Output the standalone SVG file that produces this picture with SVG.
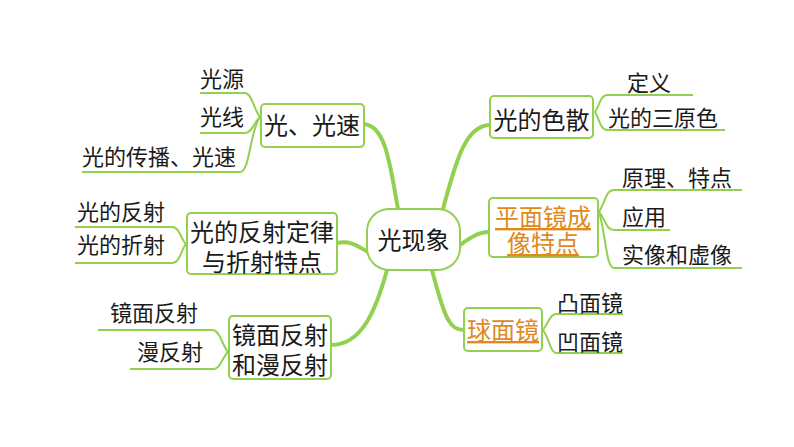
<svg xmlns="http://www.w3.org/2000/svg" width="794" height="447" viewBox="0 0 794 447">
<style>
text{font-family:"Noto Sans CJK SC","Noto Sans",sans-serif;fill:#1a1a1a}
.m{font-size:24px;text-anchor:middle}
.c{font-size:22px}
.o{fill:#E08A1E;text-decoration:underline}
.box{fill:#fff;stroke:#92D050;stroke-width:2}
.main{fill:none;stroke:#92D050;stroke-width:4;stroke-linecap:round}
.sub{fill:none;stroke:#92D050;stroke-width:2}
</style>
<rect width="794" height="447" fill="#fff"/>
<g id="connectors">
<path class="main" d="M364,124 C386,126 390,165 398,209"/>
<path class="main" d="M443,209 C456,160 466,125 490,125"/>
<path class="main" d="M337,243 C352,240 360,248 368,252"/>
<path class="main" d="M387,270 C376,310 362,345 331,345"/>
<path class="main" d="M460,245 C470,238 478,232 489,232"/>
<path class="main" d="M432,270 C445,320 450,330 464,330"/>
<path class="sub" d="M200,93 H245 C252,93 254,110 260,117"/>
<path class="sub" d="M200,133 H245 C252,133 254,122 260,117"/>
<path class="sub" d="M82,172 H240 C250,172 250,130 260,117"/>
<path class="sub" d="M75,227 H172 C180,227 181,240 186,244"/>
<path class="sub" d="M75,263 H172 C180,263 181,250 186,244"/>
<path class="sub" d="M98,330 H212 C220,330 222,345 228,352"/>
<path class="sub" d="M130,369 H214 C220,369 222,358 228,352"/>
<path class="sub" d="M595,112 C600,105 600,95 608,95 H693"/>
<path class="sub" d="M595,112 C600,120 600,130 608,130 H725"/>
<path class="sub" d="M599,212 C606,200 606,190 614,190 H742"/>
<path class="sub" d="M599,212 C606,220 606,230 614,230 H670"/>
<path class="sub" d="M599,212 C606,235 606,268 614,268 H742"/>
<path class="sub" d="M543,330 C550,320 550,314 557,314 H623"/>
<path class="sub" d="M543,330 C550,340 550,353 557,353 H623"/>
</g>
<g id="center"><rect class="box" x="367" y="209" width="93" height="61" rx="22" stroke-width="3"/><text class="m" x="413.5" y="249">光现象</text></g>
<g id="n1"><rect class="box" x="261" y="104" width="103" height="43" rx="4"/><text class="m" x="312" y="134">光、光速</text></g>
<g id="n1a"><text class="c" x="200" y="87">光源</text></g>
<g id="n1b"><text class="c" x="200" y="125">光线</text></g>
<g id="n1c"><text class="c" x="82" y="165">光的传播、光速</text></g>
<g id="n2"><rect class="box" x="187" y="213" width="150" height="61" rx="4"/><text class="m" x="262" y="241">光的反射定律<tspan x="262" dy="30">与折射特点</tspan></text></g>
<g id="n2a"><text class="c" x="77" y="220">光的反射</text></g>
<g id="n2b"><text class="c" x="77" y="253">光的折射</text></g>
<g id="n3"><rect class="box" x="229" y="316" width="102" height="63" rx="4"/><text class="m" x="280" y="344">镜面反射<tspan x="280" dy="30">和漫反射</tspan></text></g>
<g id="n3a"><text class="c" x="110" y="321">镜面反射</text></g>
<g id="n3b"><text class="c" x="137" y="360">漫反射</text></g>
<g id="n4"><rect class="box" x="490" y="96" width="103" height="42" rx="4"/><text class="m" x="541.5" y="129">光的色散</text></g>
<g id="n4a"><text class="c" x="627" y="91">定义</text></g>
<g id="n4b"><text class="c" x="608" y="126">光的三原色</text></g>
<g id="n5"><rect class="box" x="489" y="198" width="109" height="59" rx="4"/><text class="m o" x="543" y="226">平面镜成<tspan x="543" dy="26">像特点</tspan></text></g>
<g id="n5a"><text class="c" x="622" y="186">原理、特点</text></g>
<g id="n5b"><text class="c" x="622" y="225">应用</text></g>
<g id="n5c"><text class="c" x="622" y="263">实像和虚像</text></g>
<g id="n6"><rect class="box" x="464" y="308" width="78" height="43" rx="4"/><text class="m o" x="503" y="339">球面镜</text></g>
<g id="n6a"><text class="c" x="557" y="311">凸面镜</text></g>
<g id="n6b"><text class="c" x="557" y="350">凹面镜</text></g>
</svg>
